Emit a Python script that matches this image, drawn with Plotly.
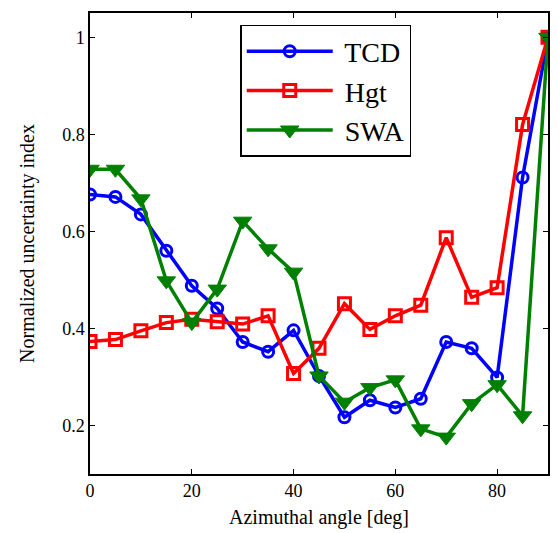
import plotly.graph_objects as go

angles = [0, 5, 10, 15, 20, 25, 30, 35, 40, 45, 50, 55, 60, 65, 70, 75, 80, 85, 90]
tcd = [0.676, 0.671, 0.635, 0.560, 0.488, 0.441, 0.372, 0.352, 0.396, 0.302,
       0.217, 0.252, 0.237, 0.255, 0.372, 0.359, 0.299, 0.711, 1.0]
hgt = [0.373, 0.377, 0.395, 0.412, 0.419, 0.414, 0.409, 0.426, 0.307, 0.359,
       0.451, 0.398, 0.426, 0.448, 0.587, 0.464, 0.484, 0.820, 1.0]
swa = [0.728, 0.728, 0.667, 0.498, 0.412, 0.481, 0.621, 0.564, 0.516, 0.302,
       0.248, 0.278, 0.294, 0.193, 0.176, 0.245, 0.284, 0.220, 1.0]
series_names = ["TCD", "Hgt", "SWA"]

FONT = "Liberation Serif, Times New Roman, serif"

fig = go.Figure()
fig.add_trace(go.Scatter(
    x=angles, y=tcd, name=" " + series_names[0], mode="lines+markers",
    line=dict(color="#0000ff", width=3.5),
    marker=dict(symbol="circle-open", size=11, color="#0000ff", line=dict(width=3, color="#0000ff")),
))
fig.add_trace(go.Scatter(
    x=angles, y=hgt, name=" " + series_names[1], mode="lines+markers",
    line=dict(color="#ff0000", width=3.5),
    marker=dict(symbol="square-open", size=12, color="#ff0000", line=dict(width=3, color="#ff0000")),
))
fig.add_trace(go.Scatter(
    x=angles, y=swa, name=" " + series_names[2], mode="lines+markers",
    line=dict(color="#008000", width=3.5),
    marker=dict(symbol="triangle-down", size=16, color="#008000", line=dict(width=1, color="#008000")),
))

axis_common = dict(
    showline=True, linecolor="black", linewidth=1.5, mirror="ticks",
    ticks="inside", ticklen=5, tickwidth=1, tickcolor="black",
    showgrid=False, zeroline=False,
    tickfont=dict(family=FONT, size=18, color="black"),
)

fig.update_layout(
    width=558, height=533,
    margin=dict(l=90, r=8, t=13, b=59),
    paper_bgcolor="white", plot_bgcolor="white",
    font=dict(family=FONT, color="black"),
    xaxis=dict(range=[0, 90], dtick=20, tick0=0,
               title=dict(text="Azimuthal angle [deg]", font=dict(family=FONT, size=20), standoff=10),
               **axis_common),
    yaxis=dict(range=[0.1, 1.05], dtick=0.2, tick0=0,
               title=dict(text="Normalized uncertainty index", font=dict(family=FONT, size=20), standoff=22),
               **axis_common),
    legend=dict(x=0.328, y=0.974, xanchor="left", yanchor="top",
                bordercolor="black", borderwidth=1.5, bgcolor="white",
                font=dict(family=FONT, size=28, color="black"),
                itemwidth=86, tracegroupgap=0),
)

fig.write_html("out.html")
